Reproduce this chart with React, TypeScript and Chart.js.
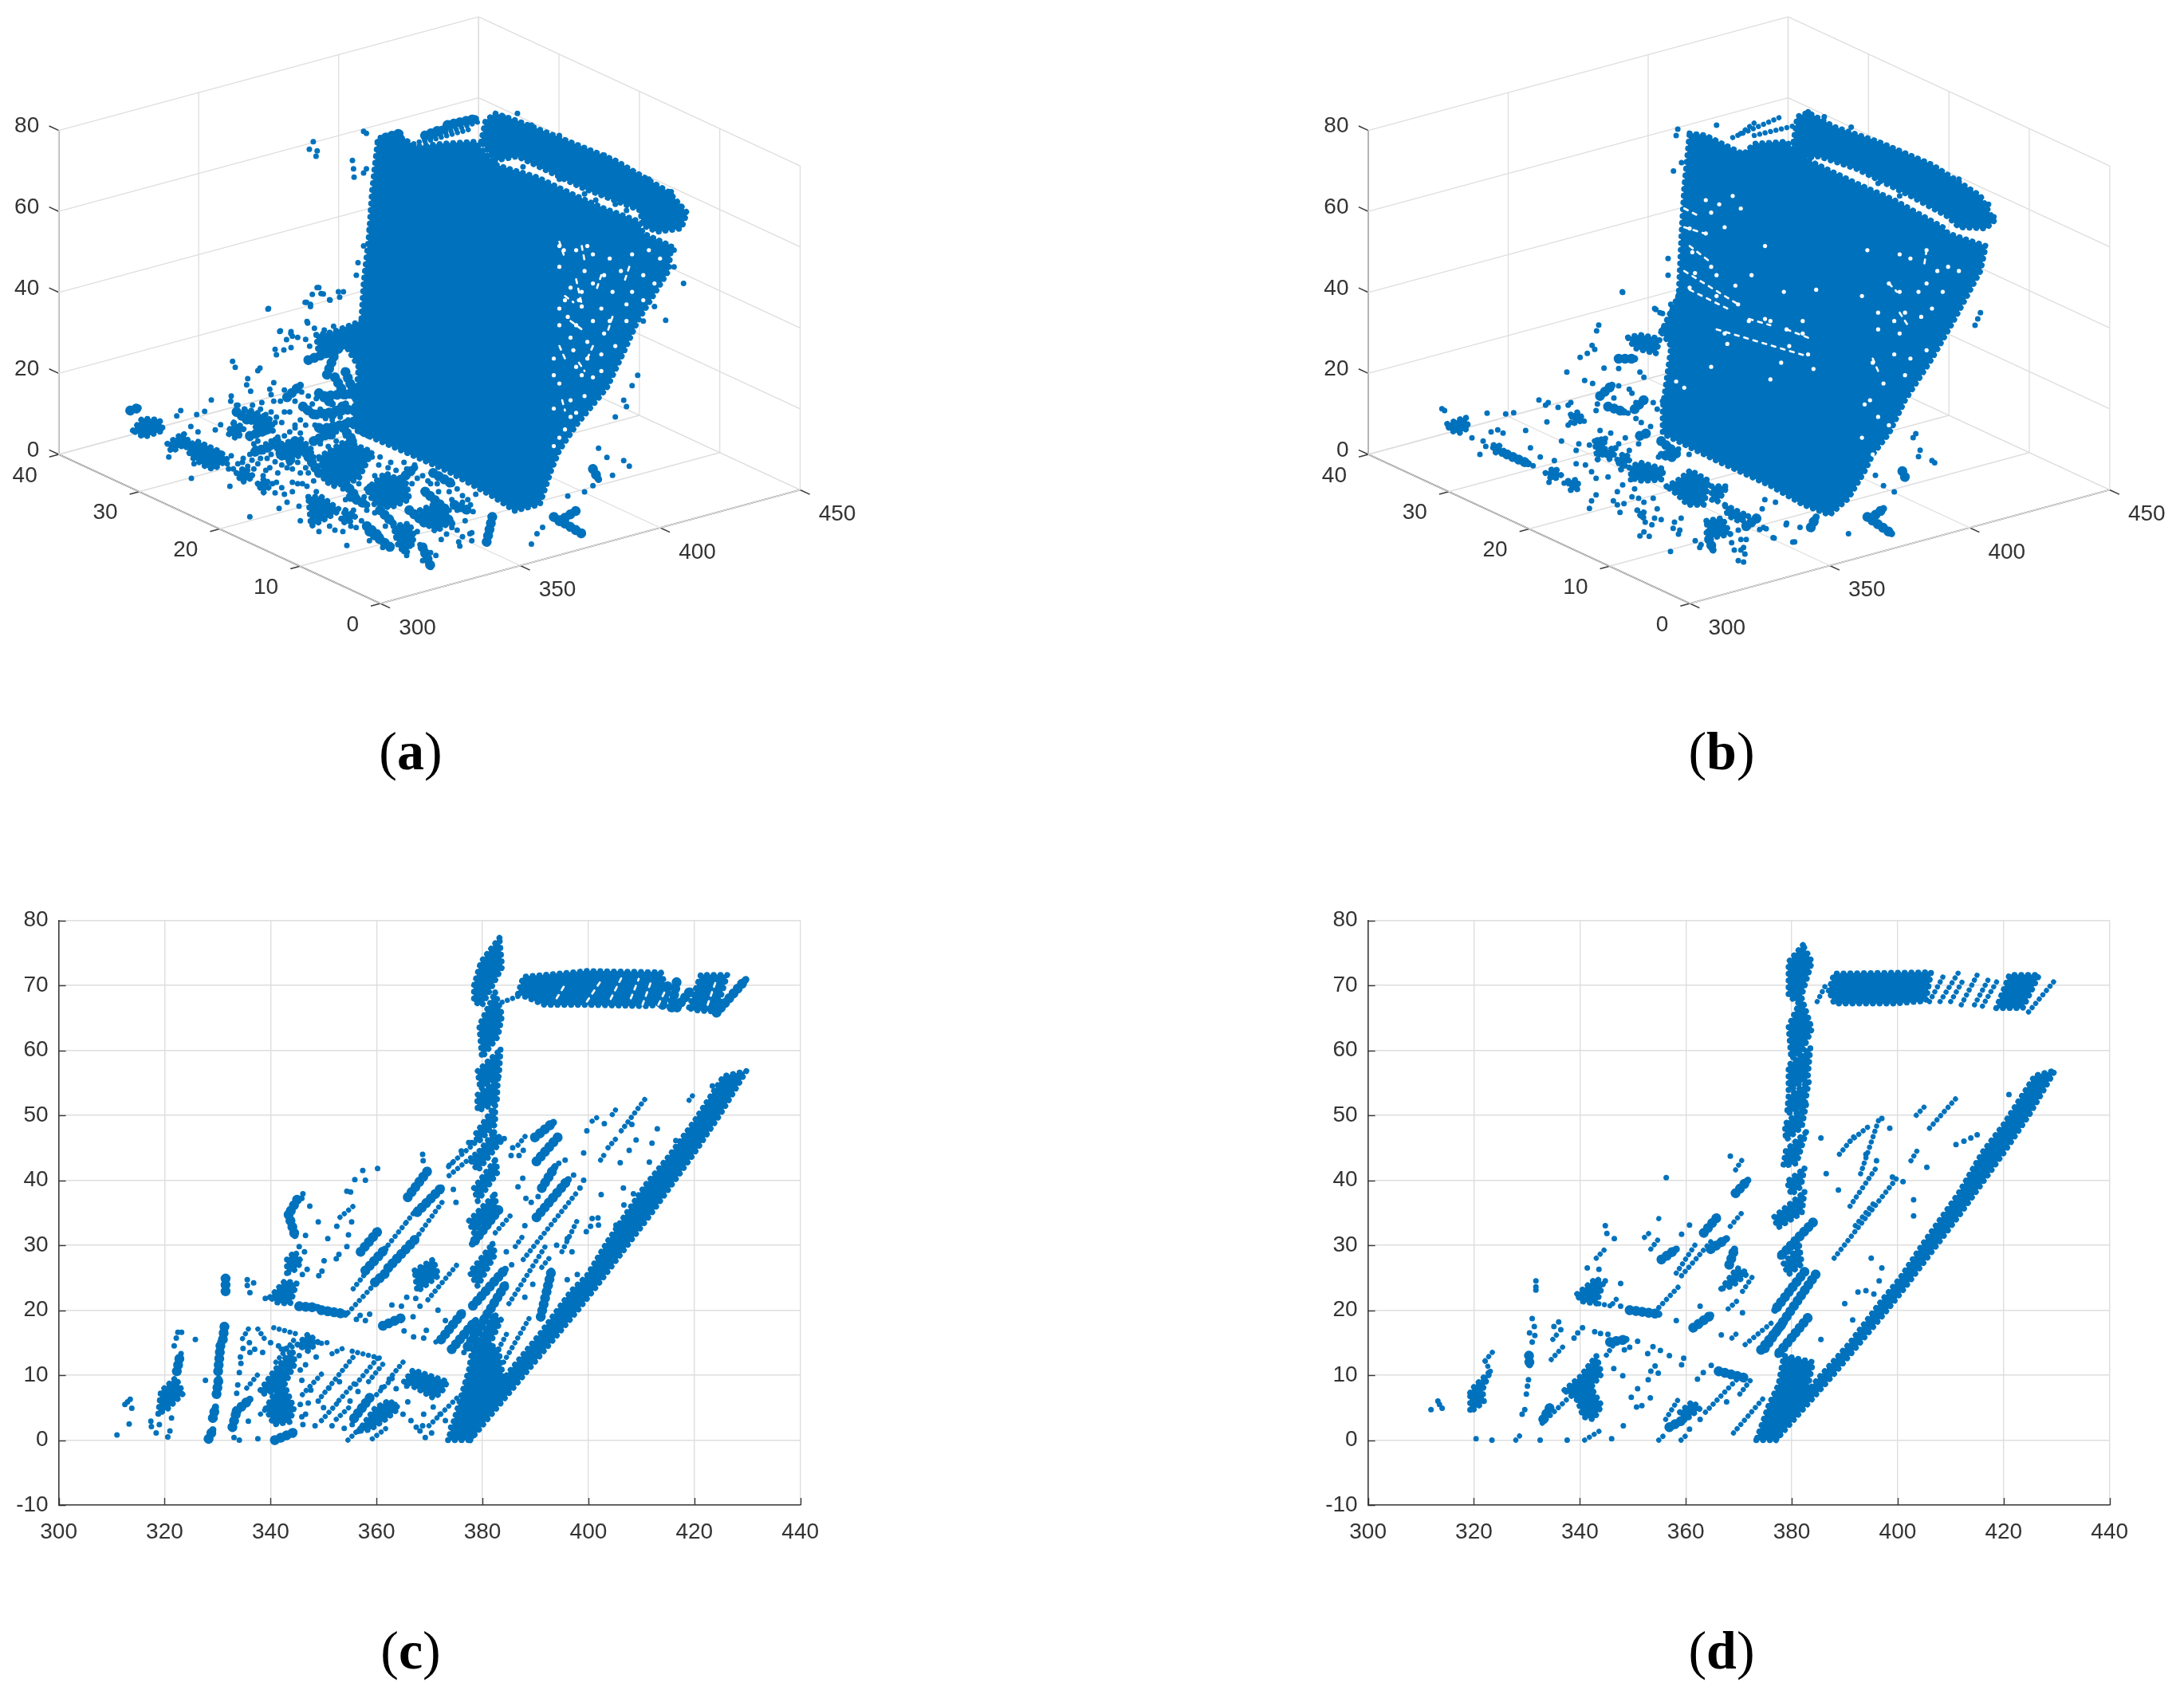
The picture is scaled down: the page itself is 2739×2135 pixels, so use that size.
import React, { useEffect, useRef } from "react";
import { Chart, registerables } from "chart.js";
Chart.register(...registerables);

const BLUE = "#0072BD";
const GRID = "#dedede";
const AXIS = "#3a3a3a";
const TEXT = "#333333";

// ---- 2-D views: range (x) against height (z) (c) and (d)
const xTicks2D = [300, 320, 340, 360, 380, 400, 420, 440];
const zTicks2D = [-10, 0, 10, 20, 30, 40, 50, 60, 70, 80];

const cPolys = [
  [377.7,0,387.8,10,398,20,401.2,23.3,411.7,34.7,420,44.2,425,50.3,429.8,56.8,425.5,56,420,49.1,415.2,43.7,410.7,39.2,403.7,30.7,399.7,25.3,396.7,22.9,391,16.5,385,10.5,381.5,6.5,378,2.5],
  [373.5,0,377.7,0,384,9,383,14,378.5,16,377.5,11,375.7,6],
  [378.3,12.8,381.5,15,383.5,18.5,382,19.5,379,15],
  [383.2,77.3,379.7,73.6,378.4,70,378.4,67.5,379.9,66.9,383.7,72.8],
  [382.4,68.9,383.7,65.4,382.9,62.1,379.9,58.9,379.4,63.8],
  [383.4,60.1,383.1,56,379.6,54,379.1,56.8],
  [382.9,55.6,382.7,51.9,379.1,50.7,379,53.1],
  [382.4,51.5,382.4,48.6,379.1,45.8,378.6,47],
  [382.2,47.4,383.7,46.2,379.1,41.5,377.9,42.9],
  [382.4,43.1,382.9,41.3,379.1,36.8,378.4,38.8],
  [382.3,37.8,382.7,35.6,378.4,31.9,377.4,33.7],
  [381.9,30.2,382.4,28.6,379.1,23.7,377.6,25.8],
  [386.7,68.7,387.7,71.3,399.7,72.2,413.7,72,414.7,69.5,413.2,67,410.7,66.8,399.7,67,391.7,67],
  [419,66.6,421.2,71.6,426.2,71.6,424.7,67.5,423.2,66,419.7,66.2],
  [318.8,4.05,319.3,7.5,322.1,9.6,323.5,7.2,320.6,4.85],
  [339.9,22,342.7,24.5,344.9,24.1,343.7,21,341.1,21.2],
  [343.1,25.7,343.1,27.8,344.6,29,345.8,27.4,344.4,26.1],
  [338.1,7.7,340.6,10.6,344.1,13.9,344.6,11.8,342.6,8.5,344.4,4.9,343.6,2.8,340.6,2.4,339.1,4.9,341.1,7.7,338.6,7.1],
  [345.1,14.7,347.1,16.3,348.9,15.1,347.1,13.7],
  [356.6,1.4,359.7,4.9,362.4,6.1,364.2,4.9,361.7,3.2,358.7,1.6],
  [365.2,9,366.9,10.8,373.4,9,372.2,7.3,370.7,6.5,368.2,7.7],
  [367.2,26.1,370.7,27.8,371.7,25.3,367.7,22.9],
];
const cWide = [
  [322.3,10.6,322.8,12.6],[330.1,10.6,330.6,15.1],[331,15.5,331.3,17.5],[329.8,7.1,330.2,9.4],[329.1,3.4,329.6,5.1],[328.3,0.2,329.1,1.6],[331.5,22.9,331.5,24.9],
  [343.4,34.7,344.6,31.5],[345,37,343.4,34.7],[340.8,0,344.4,1.2],[333.6,4.5,336.1,6.3],[332.8,2,333.6,4.5],
  [357.9,26.1,361.6,29.4],[359.7,24.3,361.7,25.7],[362.2,26.5,367.4,31],[365.9,37.4,369.7,41.5],[367.7,35.1,372.2,38.8],[357,29,360.2,32.1],
  [361.2,17.6,364.7,18.8],[349.6,20,354.1,19.4],[345.4,20.6,348.9,20.4],[374.2,14,378.7,18.4],[372.2,15.5,376.2,19.6],[358.7,6.5,355.6,3.2],
  [415.7,66.6,416.7,70.7],[416.7,66.6,419.2,69.1],[414,67,415,70],[424.2,65.8,429.7,70.9],
  [383,35.4,378.1,30.2],[377.2,14.4,384.3,23.9],[378.2,20.7,384.3,26.3],
  [389.9,46.6,393.4,48.9],[390.2,42.9,394.2,46.6],[391.2,38.8,393.7,42.1],[390.2,34.3,396.2,40.1],[391,19,393,26],
];
const cThin = [
  [335.8,17.1,334.6,15.5],[337.6,17.1,339.1,15.3],[340.6,17.3,345.1,16.3],[349.6,14.9,351.6,15.1],[351.6,13.3,354.1,14.3],[355.4,13.7,360.7,12.6],
  [349.6,6.7,355.9,13.1],[356.1,8.6,360.2,12.6],[352.9,6.1,355.9,8.8],[359.2,0.2,362.4,2.2],[354.6,0,357.6,2.4],[369.9,2.2,375.7,6.9],
  [338.1,4,340.1,5.5],[349.6,3,352.6,5.7],[352.4,3.2,354.9,5.1],
  [355.6,23.3,365.6,33.5],[365.6,33.5,368,36],[354.6,19.6,367.2,30.6],[367.4,31,372.9,37.2],[373.7,42.3,378.7,45.8],[373.7,40.7,378.7,44.1],
  [369.7,21.6,375.2,27],[353.1,34.3,355.9,36.2],[371.2,15.1,373.7,16.5],
  [383.7,67.4,386.7,68.3],[385.2,34.5,382.2,31.7],
  [406.2,47.6,410.7,52.5],[404.5,50.1,405.7,51.5],[419,52.3,420,53.4],[402.3,43.1,403.2,44.2],[403.7,45,405.2,46.4],[400.7,49.1,401.7,49.7],
  [386.7,45.4,388.7,47.4],[387.7,27.8,397.7,38],[386.2,29.8,387.7,31.5],[391.2,26.6,393.2,28.6],[373.6,42.1,375.1,43.3],
  [384,12,389,19],[383,14,385,17],[385,21,392,30],[395,29,398,34],[392,15,397,22],
  [341,12,345,16],[335.5,8,338,10.5],[358.5,9,361.5,12],[363,10,365.5,12.5],[360,7,363,9.5],[346,7,350,10.5],[342,14,345,14.5],
];
const cCuts = [
  [399.7,67.5,402.7,71.1],[404.2,67.9,406.2,71.1],[410.2,67,411.7,70.3],[413.2,67,414.7,69.5],[394,68,395.5,70],[408,68,409.5,71],[422.5,67,424,70.5],
];
const cDots = [
  311,0.8,313.3,2.5,313.5,6.3,312.5,5.5,313.8,4.9,313,5.9,317.4,2.9,317.5,2.1,318.4,1.1,319,2.4,321,1.4,320.6,0.5,321.3,3.4,325.8,15.5,322.5,16.6,323.2,16.6,322.2,15.7,321.8,14.5,323.1,13.3,327.7,9.2,335.6,24.7,336.8,24.2,335.6,23.8,336.1,22.7,339,21.8,
  346.1,37.9,345.9,37.2,347.4,36,349,33.6,350.8,31,346.6,31.5,345.4,29.8,346.4,29,350.1,27.6,352.4,27.9,346.9,26.3,346,25.5,349.1,25.3,349.7,26,
  352.5,32.9,355.3,33.6,354.7,31.6,360.2,41.8,357.9,40,355.9,40.1,357.4,41.5,354.4,38.3,355.1,38.2,368.7,44,368.8,43,375,36.6,374.5,38.6,378,45.8,352.9,28.6,354.4,29.8,362.9,20.8,364.7,20.6,368.2,20.6,365.7,22,367.4,21.8,371.6,20,373,18.4,366.9,19,356.2,18.6,357.9,18.4,358.7,19.4,356.9,19.2,365.2,16.8,367,15.9,369.4,16.9,368.9,15.7,376.5,13.5,
  334.3,12.8,334.4,11.8,334.1,10.4,333.8,8.5,333.6,7.2,336.1,13.5,334.8,14.1,348.6,12.8,345.6,10.8,345.9,9.2,347.6,7.7,345.4,13,346.6,11.6,361,8.1,363.7,7.9,362.4,9.4,365.7,8.3,365.9,5.9,368.9,4,370.7,5.1,368.2,1.4,369.2,0.4,370.4,1.1,368.7,2.2,376.5,4.7,348.4,2.2,346.1,2.4,351.6,2.2,353.9,1.8,355.4,2.4,337.6,0.2,333.1,0.4,334.1,0,335.8,2.9,347.1,5.7,345.6,5.5,346.6,4,345.9,3.6,
  423.4,54.5,413,47.9,416.5,46.1,412,45.7,407.7,44.6,409,46.2,406,42.7,411.5,42.8,408.2,48.6,403,48.7,399.7,47.6,399.1,44.2,399.1,40,402.4,37.8,406.6,38.8,408.5,37.9,406.7,36.2,400.7,34.1,401.8,34.2,400.4,32.9,401.9,33.1,399.6,32.1,396.9,29,397.9,25.5,405.2,33.1,396,24.7,
  385.7,45,387.7,44.6,385.4,43.8,386.9,43.8,395.6,43.1,394.4,42.6,397.2,40.8,386.7,39,387.6,40.3,388.2,37.2,389.2,36.6,390.5,37.5,398.4,38.8,384.1,46.4,377.4,45.8,376,44.5,
  336,15,337,14,338.5,13.5,340,15,341.5,14.5,342.5,14,349,6,350,5,351,8,353,9,355,6,356.5,7.5,357.5,5,363.5,5.5,365,4,366.5,3,367.5,2,372,4,373,3,374,2,
  388,22,389.5,24,391.5,22,394,30,396,31,388,33,384.5,29,385.5,27,
];

const dPolys = [
  [377,0,387.8,10,398,20,401.2,23.3,411.7,34.7,420,44.2,425,50.3,429.7,56.9,425.9,56.1,420,48.6,416,44.3,411.5,38,405,30.5,400.5,25,397,21.5,391,15,385,9.5,381.5,6,378,2.3],
  [373.3,0,377,0,383,8,384,12,378.5,13,377.5,8.5,375.7,5.5],
  [382.1,76.2,379.4,73.6,379.4,68.4,381.4,67.2,383.8,73.6],
  [381.9,68,383.8,63.3,381.9,59.7,379.9,58.7,379.4,63.7],
  [383.5,60.3,383,55.7,379.4,53.7,379.4,57.7],
  [383.2,55.1,382.4,51.4,379.1,50.2,379.4,52.9],
  [382.7,51.6,381.9,48.2,378.9,46.2,378.7,48.6],
  [382.7,47.4,380.9,42.6,378.4,42.2,378.9,44.6],
  [382.4,41.8,381.7,39,379.9,37.8,379.1,39.8],
  [382.4,38.2,381.9,35,377.4,32.7,376.6,34.3],
  [381.4,29.9,381.9,27.1,379.4,25.5,378.4,27.1],
  [387,69.2,388,71.8,406.3,72,405.3,67.6,399.2,67.2,388,67.2],
  [418.6,66.5,421.1,71.6,426.7,71.6,423.6,66.5],
  [319.3,7.3,320.1,8.3,323.1,10.6,321.6,7.7,321.9,5.9,319.3,4.3],
  [339.5,22.5,343.1,24.9,344.4,24.1,343.1,21,340.1,21.4],
  [366.7,23.3,369.7,26.5,371.7,25.7,368.7,23.7],
  [337.1,7.7,340.1,9.8,343.1,13,344.1,10.2,342.1,8.1,344.1,5.3,342.6,3.2,340.6,3.6,339.6,6.1,337.6,7.3],
  [358.9,4.3,361.2,5.9,362.7,4.9,360.4,3.4],
];
const dWide = [
  [384,33.5,377.9,28.3],[382.4,25.9,376.8,20],[384.5,25.5,374.8,14],[383,18.8,377.4,13.2],
  [330.4,13,330.5,11.6],
  [349.4,20,354.9,19.4],[363.4,31.9,365.9,34.3],[364.7,29.4,367.7,31],[368.2,27,369.2,29.4],[369.4,38,371.7,40],[355.4,27.8,358.2,29.4],
  [345.7,15.1,348.7,15.5],[333.1,3.2,334.4,5.1],[356.9,2,359.7,3.2],[361.4,17.3,364.7,19.2],[374.2,13.9,378.7,18.4],[366.2,10.6,371,9.6],
];
const dThin = [
  [424.7,65.9,429.7,70.8],[384.8,67.5,386.5,70.2],[322.1,12.2,324.1,14.1],[323.1,10.6,322.1,12.2],[327.9,0,328.9,0.9],[340.9,0,344.1,1.6],[354.9,0,355.7,0.6],[359.1,0,359.9,0.6],
  [343.1,28,345.2,29.8],[343.6,21,346.2,20.6],[346.2,21,347.2,22],[354.9,20.4,359.2,24.1],[358.2,25.7,362.2,30.6],[359.2,25.3,365.2,31],
  [370.7,22.9,372.7,25.3],[368,20.2,370.2,21.8],[368.4,32.9,370.9,35.3],[369.4,41.6,370.9,43.5],[353.4,29.4,354.7,30.8],[352.2,31.2,353.4,32.1],[354.9,34.1,355.7,33.9],
  [332.9,2.6,338.1,6.7],[334.9,15.5,335.9,16.5],[334.6,12.4,337.4,14.9],[346.2,14.5,344.6,12.6],[356.2,3.2,358.9,6.7],[363.7,4.3,369.7,9.4],[370.2,7.1,372.2,9.2],[369,1.1,374.7,6.5],
  [368.7,15.7,370.2,16.9],[371.2,14.7,376.7,18.4],
  [406,48,411,52.6],[403.5,50,405.5,51.7],[391,46,395,48.6],[389,44,392,47],[393,41,396.5,49.5],[391,36,396,42],[388,28,400,40.5],[392,33,396,37],[402.5,43,404,45],
  [406,67.5,409,72],[408,67.5,411.5,72],[410,67.5,412.5,71],[412,67,415,71.6],[414.5,67,417.5,71.5],[416,66.8,419,71],
];
const dDots = [
  331.7,24.5,331.7,23.6,331.7,23.1,331,18.7,330.5,16.5,331.4,17.5,331.5,16.1,331,15.1,330.3,9.3,330.1,8.3,329.9,7.1,329.6,4.7,329.1,4,320.4,0.2,323.4,0,332.5,0,337.6,0,346,0.2,348.2,2.2,
  343.6,26.3,341.4,26.5,344.8,24.5,347.7,24.1,344.8,33,345.1,31.8,346.5,31,347.7,20.6,360.7,33.1,359.2,31.7,356.3,40.4,368.4,43.7,
  335.1,17.5,336.4,17,336,18.2,338.9,15.7,339.6,16.5,340.5,17.3,342.8,16.7,343.9,16.4,345.3,16.3,350.9,15.2,349.4,14.3,348.4,13.9,353.8,14.4,352.8,13.3,355.2,13.8,356.9,13,359.6,12.6,359.2,11.6,354.2,11.4,353.4,10.6,354.8,10.3,352.9,9.3,348.1,9.9,346.4,11,350.9,7.9,349.7,6.6,353.3,6.5,350.7,5.1,351.7,5.3,362.2,9.4,363.3,10.4,364.8,11.5,
  362.7,3.2,360.7,1.7,367.7,5.9,362.7,20.6,366.7,16.2,358.2,18.4,370.7,19.6,
  311.9,4.7,313.2,6,314,4.9,313.5,5.5,
  415,47,421,53.2,412.5,46,411,45.5,413.8,46.5,405.5,42,403,34.5,396,43,398.5,48,397,49.5,394,44,399,40.5,
  401,39.8,403,37,388.8,38.5,386.5,41,385.5,46.5,392.5,22.8,394,23,395.5,22.5,390,21,391.5,18.5,395,28,397,26.5,396.5,24.5,385.5,15.5,
];

// ---- 3-D views: the view plane of panels (a) and (b); the cloud is read as projected on the page
const xTicks3D = [300, 350, 400, 450];
const yTicks3D = [0, 10, 20, 30, 40];
const zTicks3D = [0, 20, 40, 60, 80];

const aBody = [
  [675,340,705,320,745,352,790,345,850,340,885,395,960,425,1030,470,1080,500,1140,530,1150,560,1200,590,1195,650,1140,770,1120,830,1085,930,1030,1020,1000,1080,985,1130,965,1210,920,1225,880,1190,800,1130,725,1085,640,1035,630,1020,640,900,650,680,660,560,665,460],
  [860,340,868,290,885,272,925,290,1000,330,1100,385,1195,460,1228,510,1218,548,1175,556,1148,540,1145,505,1040,450,925,375,885,385],
];
const aFloorPolys = [
  [890,240,950,230,1080,180,1085,420,1000,280,900,320],
  [200,600,235,555,300,560,315,600,240,625],
  [900,700,1000,640,1100,680,1050,780,960,810,920,790],
  [1080,820,1150,760,1230,800,1240,860,1170,890,1110,880],
  [1280,900,1330,880,1385,950,1340,980,1290,940],
  [400,660,440,640,530,680,555,710,505,745,480,740,420,700],
  [330,650,390,610,415,650,380,660,345,680],
  [590,760,620,740,655,775,610,795],
  [670,800,700,780,715,810,690,835],
  [860,850,910,850,980,900,930,930,870,960],
  [1180,960,1240,950,1260,1000,1230,1060,1200,1040],
  [580,570,620,590,590,630,555,610],
  [620,520,660,530,720,560,730,600,680,610,640,560],
  [760,650,830,630,880,680,810,700,750,700],
  [1000,900,1040,920,1010,950,980,940],
  [1040,500,1085,400,1085,620,1045,600],
];
const aFloorWide = [
  [780,475,830,430],[860,335,980,290],[930,390,960,310],[920,470,1040,460],[1000,380,1040,480],[890,540,1020,520],[930,590,1030,570],[880,640,960,600],
  [1090,980,1170,1040],[1290,1040,1320,1110],[190,525,220,515],[1300,830,1380,900],[1330,760,1400,800],[1020,850,1080,880],
  [640,620,700,600],[660,680,720,660],[740,640,760,700],[810,640,790,720],[860,700,900,760],[1000,800,1040,850],[1130,900,1180,950],[1080,960,1130,1000],[1240,900,1300,950],[1340,880,1400,950],[1190,800,1260,740],[1410,880,1460,900],[950,540,1000,500],[960,400,1000,470],[900,460,950,500],[840,510,880,540],[900,590,950,620],[590,530,630,560],[690,560,710,600],[990,590,1030,640],
];
const aTopWide = [[690,330,715,320],[760,325,790,310],[800,300,850,285]];
const aTopThin = [[740,345,860,290],[770,330,845,280],[760,340,840,310]];
const aSideWide = [[990,1240,1040,1280],[1000,1250,1030,1225],[880,1240,870,1300],[1060,1125,1070,1150]];
const aCuts = [[1000,580,1010,620],[1040,590,1045,625],[1030,670,1040,730],[1010,710,1025,725],[1020,770,1040,790],[1035,870,1045,890],[1005,960,1010,985],[1075,660,1065,700],[1095,760,1085,800],[1060,830,1050,860],[1125,640,1115,680],[1000,830,1010,860]];
const aDots = [
  560,340,553,358,567,362,565,375,630,385,632,405,655,405,650,415,633,425,672,450,668,520,660,550,650,590,640,630,637,660,605,700,590,720,570,690,578,705,548,725,555,735,480,740,550,775,500,795,520,800,
  650,315,655,320,680,330,720,335,925,272,900,280,950,300,1000,325,1080,372,1160,430,1200,460,1215,495,1225,510,
  935,400,1000,430,1045,465,1065,480,1100,490,1120,505,
  1100,1000,1120,975,1115,960,1140,900,1130,925,1190,768,1222,680,1170,735,1150,770,1205,600,1205,640,
  1115,1105,1125,1118,1085,1097,1070,1075,1015,1190,1045,1180,1060,1165,1095,1140,960,1280,950,1305,970,1265,840,1280,820,1300,
];
const aFloorDots = [
  365,545,380,525,440,540,470,528,495,485,575,340,585,362,670,375,678,365,632,405,628,428,643,452,570,470,568,490,708,143,848,118,868,125,875,88,893,62,908,85,940,108,978,98,992,78,855,190,883,215,920,222,955,208,755,225,795,228,800,245,778,258,820,250,850,257,768,297,795,288,735,295,740,315,865,283,730,420,715,445,720,465,770,448,755,490,730,490,685,495,650,505,595,505,530,578,510,598,418,585,445,605,
  600,620,640,630,655,650,670,640,700,650,720,640,745,625,770,620,790,605,810,590,830,610,850,580,885,580,905,600,940,600,965,605,
  660,665,690,680,720,690,750,690,780,740,800,745,745,760,740,795,715,740,700,750,670,725,640,690,615,705,595,725,560,745,570,695,530,685,
  820,720,850,740,860,760,880,790,820,800,800,830,770,840,735,835,780,870,750,893,825,885,855,810,890,830,830,940,960,975,1005,1033,640,925,565,810,420,780,430,725,335,700,
  600,540,590,505,620,520,650,540,680,520,700,540,735,570,770,530,740,550,810,580,830,560,850,525,890,540,915,530,890,480,
  1050,800,1020,830,1000,860,1060,870,1080,900,1110,910,1040,965,1075,960,1090,1015,1120,1000,1140,1040,1170,1040,1270,980,1280,1030,1230,1070,1220,1055,1300,1050,1320,1060,1340,1070,1310,1100,1320,1115,1290,1090,1400,965,1420,975,1440,1000,1430,1035,1475,985,1475,1015,1450,940,1480,905,1420,900,1440,870,1460,860,1490,840,1400,860,1350,830,1320,800,1300,840,1270,780,1250,800,1230,745,1170,720,1130,700,1100,700,1060,720,1110,770,1090,810,1160,740,1290,770,1370,780,1420,820,
  555,725,578,745,612,720,632,735,648,712,680,705,705,705,735,718,760,730,785,712,830,760,838,800,800,795,760,815,725,800,690,770,655,745,
  880,700,905,650,935,660,965,640,1000,620,985,590,1010,560,980,550,950,560,925,555,905,520,875,500,860,470,835,455,810,490,790,530,760,570,720,530,690,600,
  990,820,1030,790,1060,740,1125,730,1190,750,1220,720,1260,730,1310,790,1345,800,1390,830,1440,845,1470,880,1390,900,1380,990,1360,1010,1250,1030,1190,1000,1150,960,1060,940,1020,960,990,980,940,960,900,980,1030,900,1070,850,
];
const aSpecks = [
  1000,590,1030,600,1060,610,1090,620,1130,610,1000,640,1045,650,1080,660,1110,650,1150,660,1020,690,1040,700,1060,680,1095,700,1130,700,1010,720,1040,735,1075,740,1120,730,1000,780,1030,780,1060,770,1090,770,1120,770,1020,810,1050,820,1080,800,1100,830,990,860,1030,880,1050,860,1075,850,1000,920,1040,900,1060,905,1020,960,1045,950,990,980,1020,1000,1000,1050,1030,990,1075,890,
  1008,600,1050,590,1160,600,1180,620,1170,680,1150,720,1000,740,1015,760,1035,720,1025,840,990,900,1010,1030,990,1070,
];

const bBody = [
  [650,320,680,325,750,370,770,345,830,340,855,375,960,440,1030,480,1120,545,1130,560,1200,590,1190,650,1140,770,1100,860,1050,960,1020,1040,990,1090,975,1130,945,1195,910,1235,860,1210,800,1165,700,1105,600,1040,600,980,615,840,630,700,635,560,640,450],
  [843,340,850,280,870,270,920,305,1000,340,1100,395,1190,470,1215,530,1200,548,1150,545,1130,520,1060,470,960,405,890,375,855,380],
];
const bFloorPolys = [
  [195,575,265,550,275,590,240,610,205,600],
  [370,655,385,650,415,685,390,690,365,675],
  [660,540,690,530,705,560,675,575],
  [750,640,785,630,790,680,760,710],
  [790,680,830,660,820,700,800,710],
  [835,710,860,685,885,705,850,750],
  [880,740,920,720,1010,745,1000,785,930,790,890,780],
  [875,250,920,240,995,255,980,310,900,290],
  [565,760,600,740,625,770,590,785],
  [650,790,685,785,690,820,660,825],
  [1020,810,1060,790,1110,750,1180,790,1160,880,1100,880,1060,840],
  [1190,810,1250,810,1210,870,1190,860],
  [1240,880,1300,910,1330,920,1300,945,1250,920],
  [1170,940,1230,930,1260,990,1210,1000,1180,1000],
  [910,900,940,910,930,935],
  [1000,230,1080,60,1090,400,1030,270],
  [1035,480,1085,400,1085,620,1010,590],
];
const bFloorWide = [
  [420,690,500,725],[840,330,900,330],[1180,1010,1195,1050],[1320,960,1360,930],[1040,700,1000,690],[770,470,815,430],[800,510,860,530],[900,520,935,485],[920,620,945,610],[1000,640,1060,690],
];
const bTopThin = [[730,330,820,280],[745,320,770,295],[770,325,850,300]];
const bSideWide = [[980,1240,1025,1280],[995,1235,1010,1220],[1045,1130,1050,1145],[875,1265,885,1240]];
const bCuts = [[640,545,690,565],[650,590,690,630],[640,650,740,730],[650,695,720,740],[700,790,870,855],[760,765,800,780],[830,790,870,810],[640,500,670,520],[1020,680,1035,700],[1040,750,1055,780],[990,860,1000,890],[1090,600,1085,640]];
const bDots = [
  700,300,628,310,625,325,620,410,635,390,610,620,610,660,525,700,585,740,595,750,615,730,600,790,
  1190,750,1185,765,1180,780,1105,1110,1100,1105,1078,1080,1075,1095,1070,1040,1065,1050,1010,1165,1030,1180,995,1140,945,1280,855,1265,830,1255,845,1300,805,1290,780,1270,
  870,268,900,280,950,305,1050,370,1150,430,1205,490,1215,520,1000,440,1040,470,950,465,940,470,
];
const bFloorDots = [
  175,518,185,525,345,535,415,538,445,533,540,485,565,505,575,495,612,513,660,495,650,505,755,525,760,500,855,80,765,203,757,225,740,280,750,295,722,310,695,325,645,380,785,365,840,367,712,412,742,423,880,445,890,460,840,432,822,478,570,568,490,600,625,640,508,665,545,700,518,733,288,628,330,640,340,660,318,690,360,605,385,598,405,610,598,713,680,725,715,730,578,795,635,798,738,755,755,780,800,775,730,893,738,865,755,842,820,865,835,880,860,875,845,908,835,830,855,805,885,785,900,820,890,850,915,855,935,870,970,855,985,895,975,930,940,945,965,955,935,982,920,997,955,998,1000,935,1050,945,1075,930,1045,968,1070,975,1065,990,1128,1015,1035,1055,1145,1040,1150,1030,1190,1045,1170,985,1265,1022,1290,975,1300,1010,1320,1010,1310,1040,1275,1050,1300,1050,1315,1065,1290,1090,1310,1095,1385,965,1395,970,1425,1005,1470,955,1495,1020,1380,895,1390,860,1430,870,1470,830,
  650,580,660,570,710,565,770,600,810,610,865,628,880,675,730,655,690,650,680,675,760,635,790,630,840,650,940,620,915,650,905,495,935,485,875,535,855,530,825,520,805,510,970,495,1005,490,985,520,905,555,925,570,960,585,1005,640,990,700,1020,700,1065,670,1105,690,
  920,380,935,400,980,145,1005,160,1040,150,1020,210,1000,225,
];
const bSpecks = [
  650,548,680,560,715,545,690,510,705,490,655,605,690,640,660,655,700,660,735,685,650,690,700,710,740,730,760,770,800,770,830,790,860,800,835,830,870,850,880,885,715,800,690,880,640,930,625,915,720,825,790,765,825,700,885,695,765,660,680,480,730,470,745,500,790,590,820,870,800,910,860,770,
  980,600,1040,610,1060,620,1090,600,1110,650,1020,680,1040,700,1000,750,1030,770,1050,750,1080,760,1100,740,1120,700,1040,800,1000,790,970,710,1090,840,1060,860,990,870,1030,850,975,970,1010,920,985,960,1050,900,1000,1000,1020,1020,970,1050,990,1090,1075,700,1090,680,1130,640,1150,650,
];

// ---- helpers
const pairs = (flat: number[]) => {
  const out: { x: number; y: number }[] = [];
  for (let i = 0; i + 1 < flat.length; i += 2) out.push({ x: flat[i], y: flat[i + 1] });
  return out;
};
const shape = (flat: number[], x: string, y: string) => {
  const ring = pairs([...flat, flat[0], flat[1]]);
  return [
    {
      type: "scatter", data: ring, xAxisID: x, yAxisID: y, showLine: true, fill: "shape",
      backgroundColor: BLUE, borderColor: BLUE, borderWidth: 1, pointRadius: 0, order: 50,
    },
    {
      type: "scatter", data: ring, xAxisID: x, yAxisID: y, showLine: true, fill: false,
      borderColor: BLUE, borderWidth: 7.5, borderCapStyle: "round", borderDash: [0.01, 8.5], pointRadius: 0, order: 49,
    },
  ];
};
const stroke = (flat: number[], x: string, y: string, w: number, dash?: number[]) => ({
  type: "scatter", data: pairs(flat), xAxisID: x, yAxisID: y, showLine: true, fill: false,
  borderColor: BLUE, borderWidth: w, borderCapStyle: "round", borderDash: dash || [], pointRadius: 0, order: 40,
});
const wideStroke = (flat: number[], x: string, y: string) => [
  stroke(flat, x, y, 9),
  stroke(flat, x, y, 12.5, [0.01, 8]),
];
const cut = (flat: number[], x: string, y: string) => ({
  ...stroke(flat, x, y, 2.6, [5, 7]), borderColor: "#ffffff", order: 10,
});
const dots = (flat: number[], x: string, y: string, color = BLUE, r = 3.5, order = 5) => ({
  type: "scatter", data: pairs(flat), xAxisID: x, yAxisID: y, showLine: false,
  backgroundColor: color, borderWidth: 0, pointRadius: r, order,
});

const base = {
  responsive: false, animation: false as const, devicePixelRatio: 1, events: [] as string[],
  plugins: { legend: { display: false }, tooltip: { enabled: false }, title: { display: false } },
};

function Flat({ left, polys, wide, thin, cuts, cloud }: { left: number; polys: number[][]; wide: number[][]; thin: number[][]; cuts: number[][]; cloud: number[] }) {
  const ref = useRef<HTMLCanvasElement>(null);
  useEffect(() => {
    const inward = {
      id: "inward",
      afterDraw(c: any) {
        const { ctx, chartArea: a, scales } = c;
        ctx.save();
        ctx.strokeStyle = AXIS;
        ctx.lineWidth = 1.4;
        scales.x.ticks.forEach((t: any) => {
          const p = Math.round(scales.x.getPixelForValue(t.value)) + 0.5;
          ctx.beginPath(); ctx.moveTo(p, a.bottom); ctx.lineTo(p, a.bottom - 9); ctx.stroke();
        });
        scales.y.ticks.forEach((t: any) => {
          const p = Math.round(scales.y.getPixelForValue(t.value)) + 0.5;
          ctx.beginPath(); ctx.moveTo(a.left, p); ctx.lineTo(a.left + 9, p); ctx.stroke();
        });
        ctx.restore();
      },
    };
    const font = { family: "'Liberation Sans'", size: 28 };
    const chart = new Chart(ref.current!, {
      type: "scatter",
      data: {
        datasets: [
          ...polys.flatMap((p) => shape(p, "x", "y")),
          ...wide.flatMap((p) => wideStroke(p, "x", "y")),
          ...thin.map((p) => stroke(p, "x", "y", 6.5, [0.01, 7])),
          ...cuts.map((p) => cut(p, "x", "y")),
          dots(cloud, "x", "y"),
        ] as any,
      },
      options: {
        ...base,
        layout: { padding: { top: 34.5, right: 46.3, left: 0, bottom: 0 }, autoPadding: false },
        scales: {
          x: {
            type: "linear", min: 300, max: 440,
            afterBuildTicks: (s: any) => { s.ticks = xTicks2D.map((value) => ({ value })); },
            afterFit: (s: any) => { s.height = 132; },
            ticks: { font, color: TEXT, padding: 17, maxRotation: 0 },
            grid: { color: GRID, lineWidth: 1.4, drawTicks: false },
            border: { color: AXIS, width: 1.6 },
          },
          y: {
            type: "linear", min: -10, max: 80,
            afterBuildTicks: (s: any) => { s.ticks = zTicks2D.map((value) => ({ value })); },
            afterFit: (s: any) => { s.width = 73.6; },
            ticks: { font, color: TEXT, padding: 13 },
            grid: { color: GRID, lineWidth: 1.4, drawTicks: false },
            border: { color: AXIS, width: 1.6 },
          },
        },
      } as any,
      plugins: [inward],
    });
    return () => chart.destroy();
  }, []);
  return <canvas ref={ref} width={1050} height={900} style={{ position: "absolute", left, top: 1120, display: "block" }} />;
}

function Cloud({ left, width, shift, zoomLeft, zoomWidth, fineLeft, body, floorPolys, floorWide, thin, sideWide, cuts, near, floor, specks }: any) {
  const ref = useRef<HTMLCanvasElement>(null);
  useEffect(() => {
    const P = (x: number, y: number, z: number) => [
      477 + shift + (x - 300) * 3.51 - y * 10.0825,
      757 - (x - 300) * 0.95 - y * 4.675 - z * 5.08,
    ];
    const seg = (a: number[], b: number[]) => [...P(a[0], a[1], a[2]), ...P(b[0], b[1], b[2])];
    const gridLines: number[][] = [];
    zTicks3D.forEach((z) => { gridLines.push(seg([300, 40, z], [450, 40, z]), seg([450, 40, z], [450, 0, z])); });
    xTicks3D.forEach((x) => { gridLines.push(seg([x, 40, 0], [x, 40, 80]), seg([x, 40, 0], [x, 0, 0])); });
    yTicks3D.forEach((y) => { gridLines.push(seg([450, y, 0], [450, y, 80]), seg([300, y, 0], [450, y, 0])); });
    const axisLines: number[][] = [
      seg([300, 40, 0], [300, 40, 80]), seg([300, 0, 0], [450, 0, 0]), seg([300, 0, 0], [300, 40, 0]),
    ];
    zTicks3D.forEach((z) => axisLines.push(seg([300, 40, z], [300, 41.2, z])));
    xTicks3D.forEach((x) => axisLines.push(seg([x, 0, 0], [x, -1.2, 0])));
    yTicks3D.forEach((y) => axisLines.push(seg([300, y, 0], [296.6, y, 0])));
    const frameLine = (flat: number[], color: string, w: number) => ({
      type: "scatter", data: pairs(flat), xAxisID: "xP", yAxisID: "yP", showLine: true, fill: false,
      borderColor: color, borderWidth: w, pointRadius: 0, order: 90,
    });
    const labels = {
      id: "labels",
      afterDraw(c: any) {
        const { ctx, scales } = c;
        const X = (v: number) => scales.xP.getPixelForValue(v);
        const Y = (v: number) => scales.yP.getPixelForValue(v);
        ctx.save();
        ctx.font = "28px 'Liberation Sans'";
        ctx.fillStyle = TEXT;
        ctx.textBaseline = "middle";
        ctx.textAlign = "right";
        zTicks3D.forEach((z) => { const p = P(300, 40, z); ctx.fillText(String(z), X(p[0] - 24.5), Y(p[1] - 5)); });
        yTicks3D.forEach((y) => { const p = P(300, y, 0); ctx.fillText(String(y), X(p[0] - 27), Y(p[1] + 27)); });
        ctx.textAlign = "center";
        xTicks3D.forEach((x) => { const p = P(x, 0, 0); ctx.fillText(String(x), X(p[0] + 46.5), Y(p[1] + 31)); });
        ctx.restore();
      },
    };
    const kx = 1568 / zoomWidth;
    const ky = 1568 / 820;
    const hidden = { display: false };
    const chart = new Chart(ref.current!, {
      type: "scatter",
      data: {
        datasets: [
          ...gridLines.map((s) => frameLine(s, GRID, 1.3)),
          ...axisLines.map((s) => frameLine(s, AXIS, 1.5)),
          ...body.flatMap((p: number[]) => shape(p, "xA", "yA")),
          ...floorPolys.flatMap((p: number[]) => shape(p, "xF", "yF")),
          ...floorWide.flatMap((p: number[]) => wideStroke(p, "xF", "yF")),
          ...thin.map((p: number[]) => stroke(p, "xA", "yA", 6.5, [0.01, 7])),
          ...sideWide.flatMap((p: number[]) => wideStroke(p, "xA", "yA")),
          ...cuts.map((p: number[]) => cut(p, "xA", "yA")),
          dots(specks, "xA", "yA", "#ffffff", 2.6, 10),
          dots(near, "xA", "yA"),
          dots(floor, "xF", "yF"),
        ] as any,
      },
      options: {
        ...base,
        layout: { padding: 0, autoPadding: false },
        scales: {
          xP: { type: "linear", min: left, max: left + width, ...hidden },
          yP: { type: "linear", min: 0, max: 820, reverse: true, ...hidden },
          xA: { type: "linear", min: (left - zoomLeft) * kx, max: (left + width - zoomLeft) * kx, ...hidden },
          yA: { type: "linear", min: 0, max: 820 * ky, reverse: true, ...hidden },
          xF: { type: "linear", min: (left - fineLeft) * 3, max: (left + width - fineLeft) * 3, ...hidden },
          yF: { type: "linear", min: -340 * 3, max: (820 - 340) * 3, reverse: true, ...hidden },
        },
      } as any,
      plugins: [labels],
    });
    return () => chart.destroy();
  }, []);
  return <canvas ref={ref} width={width} height={820} style={{ position: "absolute", left, top: 0, display: "block" }} />;
}

const Caption = ({ letter, x, y }: { letter: string; x: number; y: number }) => (
  <div style={{ position: "absolute", left: x, top: y, transform: "translate(-50%,-50%)", font: "68px 'Liberation Serif'", color: "#000", lineHeight: 1 }}>
    (<b>{letter}</b>)
  </div>
);

export default function App() {
  return (
    <div style={{ position: "absolute", left: 0, top: 0, width: 2739, height: 2135, background: "#fff", overflow: "hidden" }}>
      <Cloud left={0} width={1100} shift={0} zoomLeft={0} zoomWidth={1100} fineLeft={100} body={aBody} floorPolys={aFloorPolys} floorWide={aFloorWide} thin={aTopThin} sideWide={[...aTopWide, ...aSideWide]} cuts={aCuts} near={aDots} floor={aFloorDots} specks={aSpecks} />
      <Cloud left={1640} width={1099} shift={1642.3} zoomLeft={1680} zoomWidth={1059} fineLeft={1750} body={bBody} floorPolys={bFloorPolys} floorWide={bFloorWide} thin={bTopThin} sideWide={bSideWide} cuts={bCuts} near={bDots} floor={bFloorDots} specks={bSpecks} />
      <Flat left={0} polys={cPolys} wide={cWide} thin={cThin} cuts={cCuts} cloud={cDots} />
      <Flat left={1642.4} polys={dPolys} wide={dWide} thin={dThin} cuts={[]} cloud={dDots} />
      <Caption letter="a" x={515} y={942} />
      <Caption letter="b" x={2159} y={942} />
      <Caption letter="c" x={515} y={2070} />
      <Caption letter="d" x={2159} y={2070} />
    </div>
  );
}
